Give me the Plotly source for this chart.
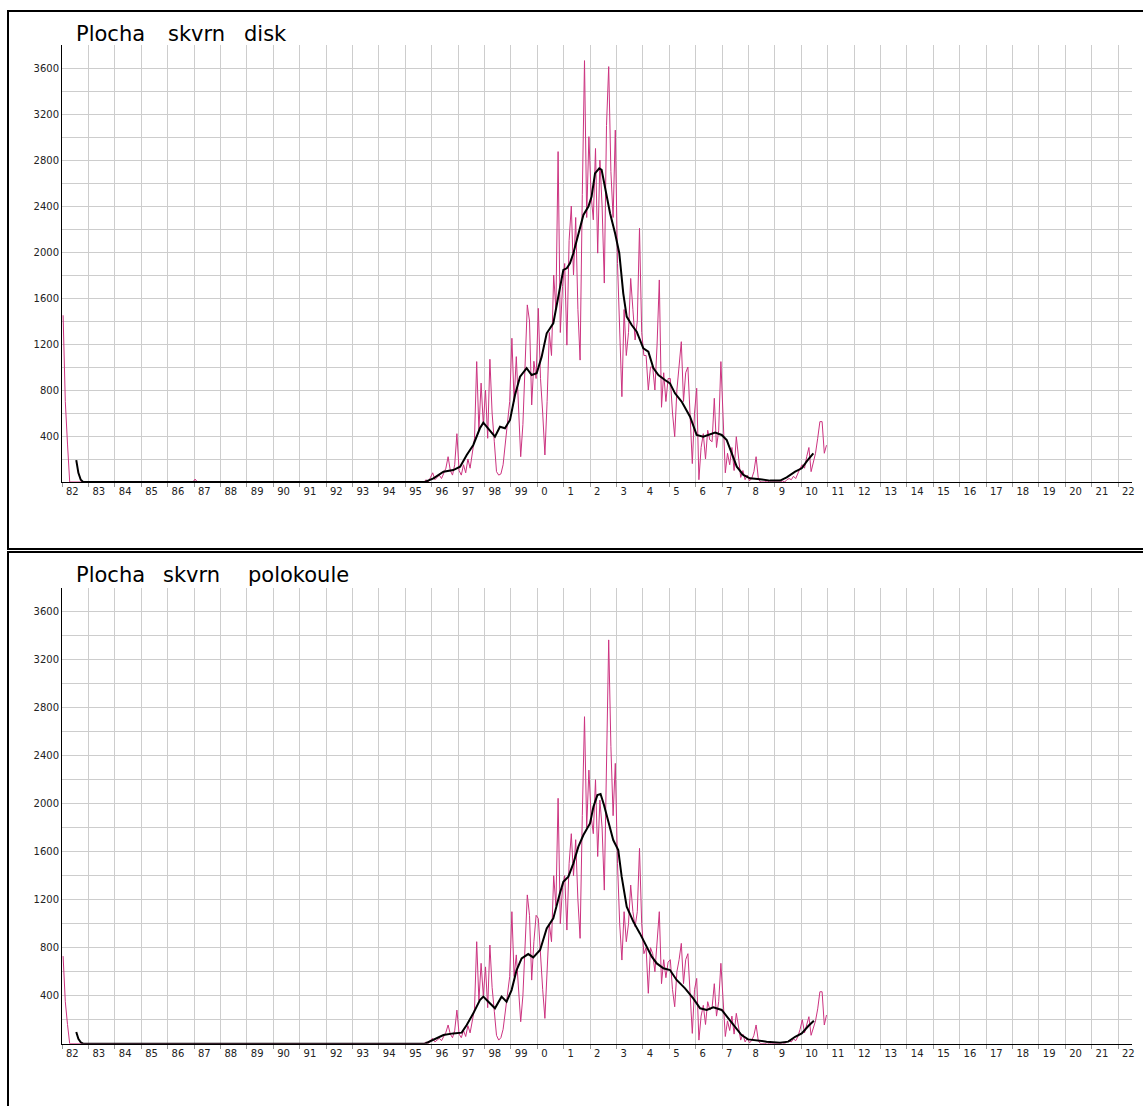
import plotly.graph_objects as go

W, H = 1143, 1106

# ---------------- tick labels ----------------
x_tick_years = [1982, 1983, 1984, 1985, 1986, 1987, 1988, 1989, 1990, 1991,
                1992, 1993, 1994, 1995, 1996, 1997, 1998, 1999, 2000, 2001,
                2002, 2003, 2004, 2005, 2006, 2007, 2008, 2009, 2010, 2011,
                2012, 2013, 2014, 2015, 2016, 2017, 2018, 2019, 2020, 2021, 2022]
x_tick_labels = ["82", "83", "84", "85", "86", "87", "88", "89", "90", "91",
                 "92", "93", "94", "95", "96", "97", "98", "99", "0", "1",
                 "2", "3", "4", "5", "6", "7", "8", "9", "10", "11",
                 "12", "13", "14", "15", "16", "17", "18", "19", "20", "21", "22"]
y_tick_values = [400, 800, 1200, 1600, 2000, 2400, 2800, 3200, 3600]
y_tick_labels = ["400", "800", "1200", "1600", "2000", "2400", "2800", "3200", "3600"]

title_top_words = ["Plocha", "skvrn", "disk"]
title_bottom_words = ["Plocha", "skvrn", "polokoule"]

# ---------------- monthly data (crimson) ----------------
months_early = ["1982-01", "1982-02", "1982-03", "1982-04", "1986-12", "1987-01", "1987-02", "1995-06"]
disk_early = [1450, 700, 330, 0, 0, 25, 0, 0]
hemi_early = [730, 350, 160, 0, 0, 0, 0, 0]

main_start = "1995-07"
disk_monthly = [
    0, 0, 0, 20, 0, 40,                                                  # 1995 Jul-Dec
    80, 20, 40, 60, 30, 80, 120, 220, 100, 60, 150, 420,                 # 1996
    100, 60, 150, 80, 200, 120, 250, 380, 1047, 450, 860, 500,           # 1997
    800, 380, 1067, 600, 350, 90, 60, 70, 150, 350, 500, 700,            # 1998
    1250, 700, 1090, 600, 220, 500, 1100, 1540, 1400, 670, 1050, 900,    # 1999
    1510, 900, 600, 235, 700, 1300, 1100, 1800, 1500, 2873, 1300, 1700,  # 2000
    1900, 1190, 2100, 2400, 1800, 2300, 1500, 1060, 2500, 3664, 2300, 3003,  # 2001
    2500, 2280, 2900, 1990, 2800, 2400, 1730, 3100, 3612, 2700, 2300, 3060,  # 2002
    1900, 1300, 742, 1500, 1100, 1300, 1770, 1500, 1235, 1400, 2206, 1300,   # 2003
    1100, 1100, 800, 1000, 1000, 800, 1200, 1757, 650, 950, 700, 900,    # 2004
    900, 600, 394, 800, 1000, 1220, 700, 950, 1000, 500, 160, 600,       # 2005
    815, 20, 300, 420, 200, 450, 365, 350, 728, 300, 450, 1047,          # 2006
    500, 80, 250, 150, 300, 100, 394, 200, 40, 100, 20, 60,              # 2007
    10, 30, 90, 220, 30, 0, 0, 0, 10, 0, 0, 0,                           # 2008
    0, 0, 0, 10, 0, 20, 30, 20, 50, 30, 80, 120,                         # 2009
    150, 120, 220, 300, 90, 180, 250, 380, 525, 525, 250, 320,           # 2010
]
hemi_monthly = [
    0, 0, 0, 15, 0, 30,                                                  # 1995 Jul-Dec
    44, 15, 30, 45, 25, 60, 95, 156, 80, 50, 110, 280,                   # 1996
    80, 50, 110, 60, 150, 90, 190, 290, 850, 360, 670, 400,              # 1997
    640, 300, 822, 470, 270, 70, 30, 50, 120, 280, 400, 560,             # 1998
    1100, 560, 740, 470, 183, 400, 850, 1240, 1070, 530, 850, 1070,      # 1999
    1044, 700, 450, 211, 550, 1000, 850, 1400, 1150, 2045, 1000, 1300,   # 2000
    1400, 947, 1500, 1750, 1400, 1700, 1200, 878, 1900, 2725, 1800, 2280,    # 2001
    1900, 1750, 2200, 1560, 2030, 1800, 1280, 2300, 3365, 2475, 1900, 2336,  # 2002
    1500, 1000, 697, 1100, 850, 1000, 1322, 1100, 975, 1100, 1628, 1000,     # 2003
    750, 800, 420, 800, 750, 600, 900, 1100, 500, 700, 550, 680,         # 2004
    700, 450, 308, 600, 700, 836, 500, 700, 750, 380, 86, 450,           # 2005
    544, 30, 230, 320, 160, 350, 280, 300, 500, 230, 350, 670,           # 2006
    380, 60, 190, 110, 230, 80, 253, 150, 30, 80, 15, 45,                # 2007
    8, 25, 70, 156, 25, 0, 0, 0, 8, 0, 0, 0,                             # 2008
    0, 0, 0, 8, 0, 15, 25, 15, 40, 25, 60, 120,                          # 2009
    200, 90, 170, 225, 70, 140, 190, 290, 433, 433, 156, 239,            # 2010
]

# ---------------- smoothed data (black) ----------------
disk_smooth_year = [1982.54, 1982.62, 1982.71, 1982.80, 1995.75, 1996.07, 1996.45, 1996.82,
                    1997.08, 1997.33, 1997.58, 1997.83, 1997.96, 1998.15, 1998.40, 1998.59,
                    1998.78, 1998.97, 1999.16, 1999.35, 1999.60, 1999.79, 1999.98, 2000.17,
                    2000.36, 2000.61, 2000.80, 2000.99, 2001.12, 2001.24, 2001.37, 2001.56,
                    2001.75, 2001.94, 2002.06, 2002.19, 2002.35, 2002.44, 2002.57, 2002.76,
                    2002.95, 2003.11, 2003.26, 2003.39, 2003.58, 2003.77, 2004.02, 2004.21,
                    2004.40, 2004.59, 2004.84, 2005.03, 2005.22, 2005.47, 2005.79, 2006.04,
                    2006.29, 2006.55, 2006.74, 2006.99, 2007.18, 2007.37, 2007.56, 2007.81,
                    2008.06, 2008.44, 2008.82, 2009.20, 2009.45, 2009.77, 2010.02, 2010.23, 2010.46]
disk_smooth = [191, 80, 20, 0, 0, 32, 90, 104,
               133, 235, 322, 467, 516, 467, 394, 480,
               467, 540, 757, 916, 990, 930, 945, 1090,
               1293, 1380, 1612, 1844, 1858, 1902, 1989, 2163,
               2322, 2395, 2482, 2684, 2728, 2714, 2569, 2337,
               2163, 1989, 1641, 1438, 1365, 1307, 1162, 1133,
               990, 930, 887, 858, 771, 699, 568, 409,
               394, 417, 429, 409, 365, 249, 133, 61,
               32, 23, 12, 12, 41, 90, 119, 186, 249]

hemi_smooth_year = [1982.54, 1982.62, 1982.71, 1982.80, 1995.75, 1996.07, 1996.45, 1996.82,
                    1997.14, 1997.33, 1997.58, 1997.83, 1997.96, 1998.15, 1998.40, 1998.65,
                    1998.84, 1999.03, 1999.22, 1999.41, 1999.66, 1999.85, 2000.11, 2000.36,
                    2000.61, 2000.86, 2000.99, 2001.18, 2001.37, 2001.56, 2001.75, 2002.00,
                    2002.13, 2002.28, 2002.40, 2002.53, 2002.69, 2002.88, 2003.07, 2003.20,
                    2003.39, 2003.64, 2003.89, 2004.15, 2004.34, 2004.53, 2004.78, 2005.03,
                    2005.28, 2005.60, 2005.91, 2006.17, 2006.42, 2006.67, 2006.99, 2007.24,
                    2007.49, 2007.74, 2007.99, 2008.31, 2008.69, 2009.20, 2009.51, 2009.77,
                    2010.02, 2010.27, 2010.48]
hemi_smooth = [97, 40, 12, 0, 0, 36, 72, 86,
               92, 156, 253, 364, 392, 350, 295, 392,
               350, 447, 614, 711, 747, 719, 781, 961,
               1044, 1253, 1350, 1392, 1503, 1642, 1739, 1836,
               1975, 2072, 2081, 1989, 1850, 1697, 1614, 1392,
               1142, 1017, 919, 808, 725, 669, 628, 614,
               531, 461, 378, 295, 281, 303, 281, 211,
               142, 72, 36, 25, 17, 8, 17, 58,
               86, 147, 192]


def month_mid(ym):
    y, m = ym.split("-")
    return int(y) + (int(m) - 0.5) / 12.0


early_x = [month_mid(m) for m in months_early]
main_x = [month_mid(main_start) + i / 12.0 for i in range(len(disk_monthly))]

CRIMSON = "#cc3380"
GRID = "#cdcdcd"
TICKFONT = dict(family="DejaVu Sans", size=10, color="#222222")

fig = go.Figure()
fig.add_trace(go.Scatter(x=early_x + main_x, y=disk_early + disk_monthly, mode="lines",
                         line=dict(color=CRIMSON, width=1), xaxis="x", yaxis="y", hoverinfo="skip"))
fig.add_trace(go.Scatter(x=disk_smooth_year, y=disk_smooth, mode="lines",
                         line=dict(color="black", width=2), xaxis="x", yaxis="y", hoverinfo="skip"))
fig.add_trace(go.Scatter(x=early_x + main_x, y=hemi_early + hemi_monthly, mode="lines",
                         line=dict(color=CRIMSON, width=1), xaxis="x2", yaxis="y2", hoverinfo="skip"))
fig.add_trace(go.Scatter(x=hemi_smooth_year, y=hemi_smooth, mode="lines",
                         line=dict(color="black", width=2), xaxis="x2", yaxis="y2", hoverinfo="skip"))

PX_PER_YEAR = 26.4
x_left, x_right = 62, 1132


def xaxis_cfg(anchor):
    return dict(domain=[x_left / W, x_right / W],
                range=[1982, 1982 + (x_right - x_left) / PX_PER_YEAR],
                tickmode="array", tickvals=x_tick_years, ticktext=x_tick_labels,
                ticks="outside", ticklen=4, tickwidth=1, tickcolor="#999999",
                ticklabelposition="outside right", ticklabelshift=3,
                showgrid=True, gridcolor=GRID, gridwidth=1,
                showline=True, linecolor="black", linewidth=1, zeroline=False,
                tickfont=TICKFONT, automargin=False, fixedrange=True, anchor=anchor)


def yaxis_cfg(anchor, top_px, bottom_px):
    return dict(domain=[(H - bottom_px) / H, (H - top_px) / H],
                range=[0, 3800],
                tickmode="array", tickvals=y_tick_values, ticktext=y_tick_labels,
                ticks="", showgrid=True, gridcolor=GRID, gridwidth=1,
                minor=dict(tickmode="linear", tick0=0, dtick=200, showgrid=True,
                           gridcolor=GRID, gridwidth=1, ticks=""),
                showline=True, linecolor="black", linewidth=1, zeroline=False,
                tickfont=TICKFONT, automargin=False, fixedrange=True, anchor=anchor)


shapes = [
    dict(type="rect", xref="paper", yref="paper", x0=8 / W, x1=1.05,
         y0=(H - 549) / H, y1=(H - 11) / H, line=dict(color="black", width=2)),
    dict(type="rect", xref="paper", yref="paper", x0=8 / W, x1=1.05,
         y0=-0.05, y1=(H - 552) / H, line=dict(color="black", width=2)),
]

TITLE_FONT = dict(family="DejaVu Sans", size=21, color="black")
annotations = []
for word, left in zip(title_top_words, [74, 166, 242]):
    annotations.append(dict(text=word, xref="paper", yref="paper", x=left / W, y=(H - 48) / H,
                            xanchor="left", yanchor="bottom", showarrow=False, font=TITLE_FONT))
for word, left in zip(title_bottom_words, [74, 161, 246]):
    annotations.append(dict(text=word, xref="paper", yref="paper", x=left / W, y=(H - 589) / H,
                            xanchor="left", yanchor="bottom", showarrow=False, font=TITLE_FONT))

fig.update_layout(
    width=W, height=H,
    margin=dict(l=0, r=0, t=0, b=0),
    paper_bgcolor="white", plot_bgcolor="white",
    showlegend=False,
    xaxis=xaxis_cfg("y"),
    yaxis=yaxis_cfg("x", 45, 482),
    xaxis2=xaxis_cfg("y2"),
    yaxis2=yaxis_cfg("x2", 587.7, 1043.7),
    shapes=shapes,
    annotations=annotations,
)

fig.write_html("out.html")
